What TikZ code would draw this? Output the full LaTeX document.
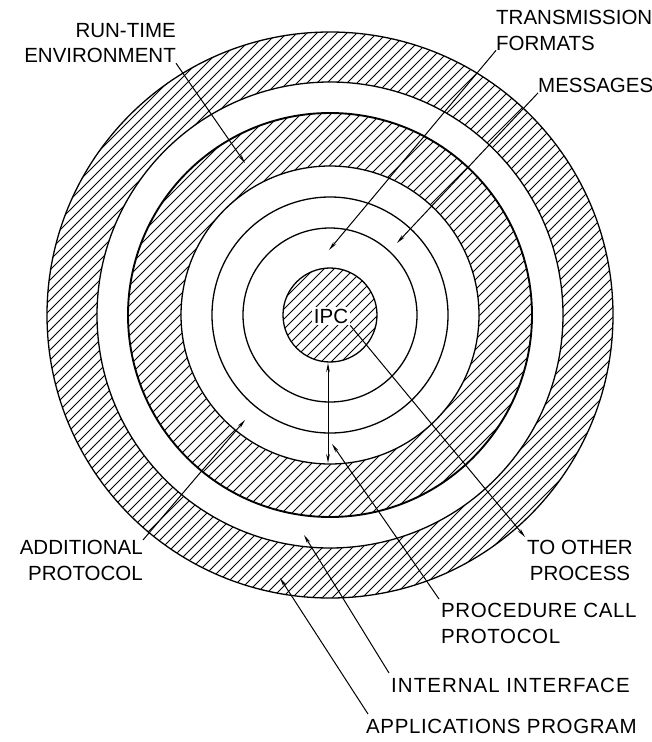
\documentclass[tikz,border=0pt]{standalone}
\usepackage{fontspec}
\setmainfont{Liberation Sans}
\usetikzlibrary{arrows.meta}
\begin{document}
\begin{tikzpicture}[x=1pt,y=-1pt,
  lbl/.style={inner sep=0pt,font=\fontsize{20.5}{25.5}\selectfont},
  spaced/.style={font=\fontsize{20.5}{25.5}\selectfont\addfontfeature{LetterSpace=#1}},
  ringline/.style={line width=1.3pt},
  hatchline/.style={line width=0.9pt},
  conn/.style={line width=1pt,-{Stealth[length=9pt,width=3.6pt]}},
  dconn/.style={line width=1pt,{Stealth[length=9pt,width=3.6pt]}-{Stealth[length=9pt,width=3.6pt]}},
]
\useasboundingbox (0,0) rectangle (652,742);
\coordinate (O) at (330,315);
% outer hatched ring
\begin{scope}
  \clip (O) circle (283);
  \foreach \c in {0,10,...,1400} \draw[hatchline] (\c,0) -- ({\c-742},742);
\end{scope}
\fill[white] (O) circle (233);
% middle hatched ring
\begin{scope}
  \clip (O) circle (202);
  \foreach \c in {5,15,...,1400} \draw[hatchline] (\c,0) -- ({\c-742},742);
\end{scope}
\fill[white] (O) circle (149);
% IPC disc
\begin{scope}
  \clip (O) circle (47);
  \foreach \c in {3,13,...,1400} \draw[hatchline] (\c,0) -- ({\c-742},742);
\end{scope}
% outlines
\draw[ringline] (O) circle (283);
\draw[ringline] (O) circle (233);
\draw[line width=1.9pt] (O) circle (202);
\draw[ringline] (O) circle (149);
\draw[ringline] (O) circle (118);
\draw[ringline] (O) circle (87);
\draw[ringline] (O) circle (47);
% labels
\node[lbl,fill=white,inner sep=2pt] (ipc) at (331,316) {IPC};
\node[lbl,anchor=north east,align=right] (rt) at (176,23) {RUN-TIME\\ENVIRONMENT};
\node[lbl,anchor=north west,align=left] (tf) at (496,10) {TRANSMISSION\\FORMATS};
\node[lbl,anchor=north west] (msg) at (538,78) {MESSAGES};
\node[lbl,anchor=north east,align=right] (add) at (143,540) {ADDITIONAL\\PROTOCOL};
\node[lbl,anchor=north,align=center] (oth) at (580,540) {TO OTHER\\PROCESS};
\node[lbl,spaced=3,anchor=north west,align=left] (pcp) at (441,603) {PROCEDURE CALL\\PROTOCOL};
\node[lbl,spaced=5,anchor=north west] (ii) at (391,678) {INTERNAL INTERFACE};
\node[lbl,spaced=3,anchor=north west] (ap) at (366,719) {APPLICATIONS PROGRAM};
% arrow tips
\coordinate (rtT) at (245,163);
\coordinate (tfT) at (329,250);
\coordinate (msgT) at (397,243);
\coordinate (addT) at (245,420);
\coordinate (pcpT) at (332,444);
\coordinate (iiT) at (304,535);
\coordinate (apT) at (280,578);
\coordinate (d1) at (328,363);
\coordinate (d2) at (328,463);
% connectors
\draw[conn] (rt.south east) -- (rtT);
\draw[conn] (tf.south west) -- (tfT);
\draw[conn] (msg.south west) -- (msgT);
\draw[conn] (add.north east) -- (addT);
\draw[conn] (ipc.south east) -- ([shift={(-2,-3)}]oth.north west);
\draw[dconn] (d1) -- (d2);
\draw[conn] ([shift={(-2,-4)}]pcp.north west) -- (pcpT);
\draw[conn] ([shift={(-2,-5)}]ii.north west) -- (iiT);
\draw[conn] ([shift={(2,-5)}]ap.north west) -- (apT);
\end{tikzpicture}
\end{document}
